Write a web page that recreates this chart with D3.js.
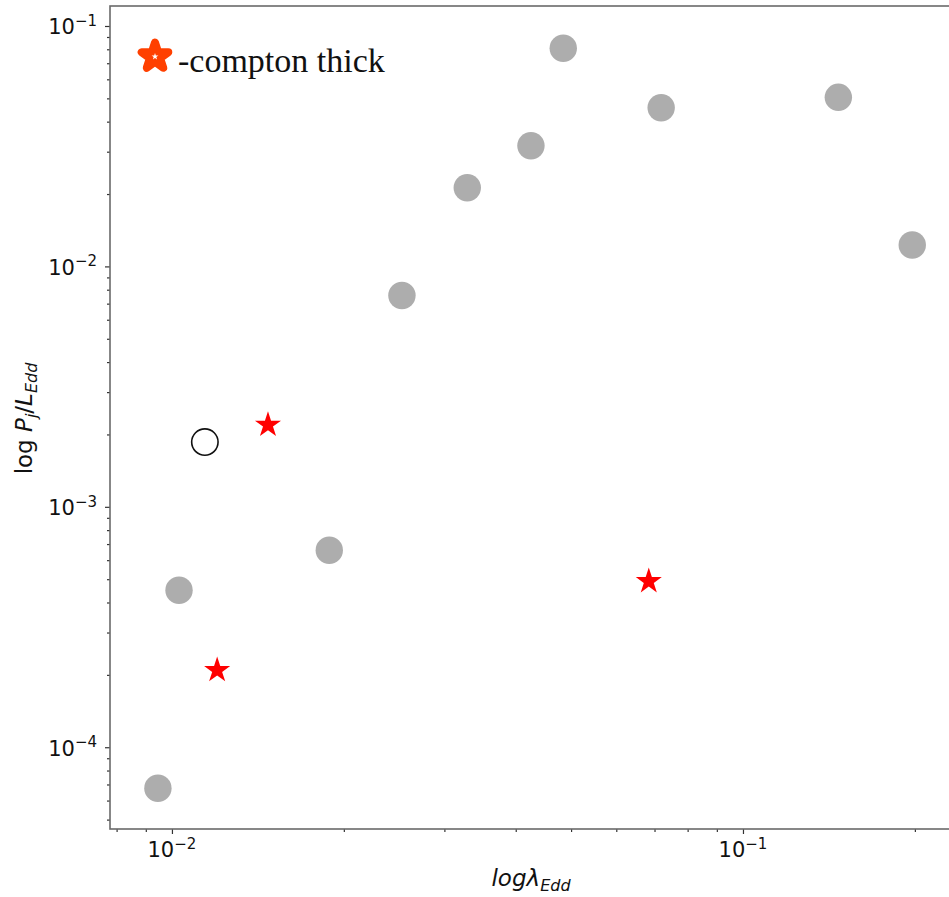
<!DOCTYPE html>
<html>
<head>
<meta charset="utf-8">
<script src="https://cdn.jsdelivr.net/npm/d3@7"></script>
<style>
  html, body { margin: 0; padding: 0; background: #fff; }
  svg { display: block; }
  text { font-family: "DejaVu Sans", sans-serif; fill: #111; }
</style>
</head>
<body>
<svg id="chart" width="949" height="897"></svg>
<script>
// Eddington ratio vs. jet power: gray = sample sources
const sampleLambda = [0.00945, 0.01029, 0.01886, 0.02528, 0.0329, 0.04253, 0.04845, 0.0719, 0.1469, 0.1979];
const samplePower  = [6.75e-5, 4.50e-4, 6.60e-4, 7.57e-3, 0.02124, 0.03177, 0.0808, 0.0457, 0.0505, 0.01227];

// open symbol
const openLambda = [0.01142];
const openPower  = [1.86e-3];

// Compton-thick sources
const ctLambda = [0.01473, 0.0120, 0.0684];
const ctPower  = [2.19e-3, 2.09e-4, 4.90e-4];

// decade exponents for the labelled ticks
const xTickExps = [-2, -1];
const yTickExps = [-4, -3, -2, -1];

const legendLabel = "-compton thick";

const svg = d3.select("#chart");
const plotLeft = 110, plotRight = 952, plotTop = 6, plotBottom = 829;

const x = d3.scaleLog().domain([0.00779, 0.2323]).range([plotLeft, plotRight]);
const y = d3.scaleLog().domain([4.57e-5, 0.1211]).range([plotBottom, plotTop]);

function minorTicks(scale) {
  const [a, b] = scale.domain();
  const out = [];
  for (let k = Math.floor(Math.log10(a)); k <= Math.ceil(Math.log10(b)); k++) {
    for (let m = 2; m <= 9; m++) {
      const v = m * Math.pow(10, k);
      if (v >= a && v <= b) out.push(v);
    }
  }
  return out;
}

const tickColor = "#333";

// minor + major ticks on x
const gx = svg.append("g").attr("transform", `translate(0,${plotBottom})`);
gx.call(d3.axisBottom(x).tickValues(minorTicks(x)).tickSize(3).tickFormat(""));
gx.append("g").call(d3.axisBottom(x).tickValues(xTickExps.map(e => Math.pow(10, e))).tickSize(5).tickFormat(""));
gx.selectAll(".domain").remove();
gx.selectAll("line").attr("stroke", tickColor).attr("stroke-width", 1.2);

const gy = svg.append("g").attr("transform", `translate(${plotLeft},0)`);
gy.call(d3.axisLeft(y).tickValues(minorTicks(y)).tickSize(3).tickFormat(""));
gy.append("g").call(d3.axisLeft(y).tickValues(yTickExps.map(e => Math.pow(10, e))).tickSize(5).tickFormat(""));
gy.selectAll(".domain").remove();
gy.selectAll("line").attr("stroke", tickColor).attr("stroke-width", 1.2);

// tick labels as 10^n
function powLabel(g, e) {
  g.append("tspan").text("10").attr("font-size", 21);
  g.append("tspan").text("\u2212" + Math.abs(e)).attr("font-size", 15).attr("dy", -8.5);
}
xTickExps.forEach(e => {
  const t = svg.append("text").attr("x", x(Math.pow(10, e))).attr("y", 857)
    .attr("text-anchor", "middle");
  powLabel(t, e);
});
yTickExps.forEach(e => {
  const t = svg.append("text").attr("x", 97).attr("y", y(Math.pow(10, e)) + 8.5)
    .attr("text-anchor", "end");
  powLabel(t, e);
});

// spines
svg.append("rect").attr("x", plotLeft).attr("y", plotTop)
  .attr("width", plotRight - plotLeft).attr("height", plotBottom - plotTop)
  .attr("fill", "none").attr("stroke", "#6a6a6a").attr("stroke-width", 1.6);

// points
const plot = svg.append("g");
plot.selectAll("circle.sample").data(d3.zip(sampleLambda, samplePower)).join("circle")
  .attr("class", "sample")
  .attr("cx", d => x(d[0])).attr("cy", d => y(d[1])).attr("r", 13.7)
  .attr("fill", "#adadad");

plot.selectAll("circle.open").data(d3.zip(openLambda, openPower)).join("circle")
  .attr("class", "open")
  .attr("cx", d => x(d[0])).attr("cy", d => y(d[1])).attr("r", 13.2)
  .attr("fill", "none").attr("stroke", "#111").attr("stroke-width", 1.6);

const starR = 13.7;
const starPath = d3.symbol(d3.symbolStar, starR * starR / 0.8908130915292852)();
plot.selectAll("path.ct").data(d3.zip(ctLambda, ctPower)).join("path")
  .attr("class", "ct")
  .attr("transform", d => `translate(${x(d[0])},${y(d[1])})`)
  .attr("d", starPath)
  .attr("fill", "#ff0000");

// legend
const lg = svg.append("g").attr("transform", "translate(155,56.5)");
const legR = 14;
lg.append("path").attr("d", d3.symbol(d3.symbolStar, legR * legR / 0.8908130915292852)())
  .attr("fill", "#ff4000").attr("stroke", "#ff4000").attr("stroke-width", 8)
  .attr("stroke-linejoin", "round");
lg.append("path").attr("d", d3.symbol(d3.symbolStar, 3.6 * 3.6 / 0.8908130915292852)())
  .attr("fill", "#fff");
svg.append("text").attr("x", 178).attr("y", 71.5)
  .style("font-family", "'Liberation Serif', 'Times New Roman', serif")
  .attr("font-size", 34).text(legendLabel);

// axis titles
const xl = svg.append("text").attr("x", 531).attr("y", 886).attr("text-anchor", "middle")
  .attr("font-size", 23).attr("font-style", "italic");
xl.append("tspan").text("log\u03bb");
xl.append("tspan").text("Edd").attr("font-size", 16).attr("dy", 5);

const yl = svg.append("text").attr("transform", "translate(32,418.5) rotate(-90)")
  .attr("text-anchor", "middle").attr("font-size", 23);
yl.append("tspan").text("log ");
yl.append("tspan").text("P").attr("font-style", "italic");
yl.append("tspan").text("j").attr("font-style", "italic").attr("font-size", 16).attr("dy", 5);
yl.append("tspan").text("/").attr("dy", -5);
yl.append("tspan").text("L").attr("font-style", "italic");
yl.append("tspan").text("Edd").attr("font-style", "italic").attr("font-size", 16).attr("dy", 5);
</script>
</body>
</html>
